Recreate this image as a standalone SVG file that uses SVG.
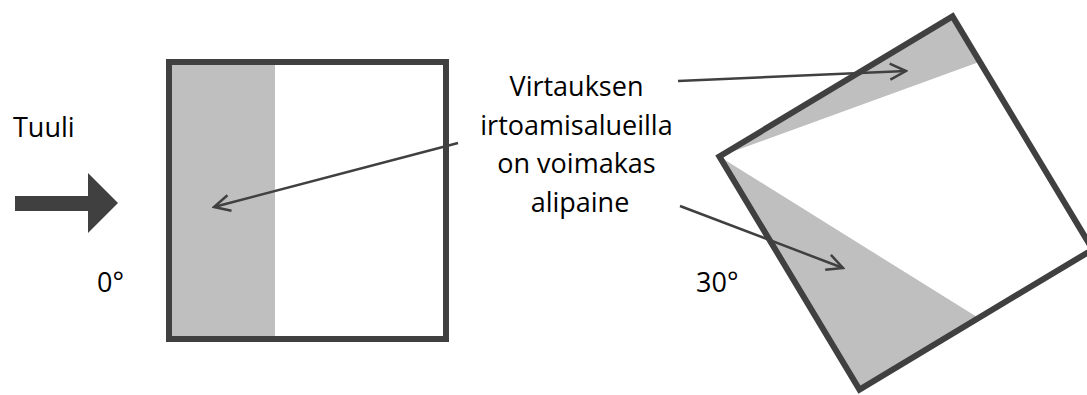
<svg xmlns="http://www.w3.org/2000/svg" width="1087" height="395" viewBox="0 0 1087 395">
<style>
.t{font-family:"Open Sans","Liberation Sans",sans-serif;font-size:27px;fill:#000}
.sq{fill:none;stroke:#404040;stroke-width:6}
.sh{fill:#bfbfbf}
.c{fill:none;stroke:#404040;stroke-width:2.5;marker-end:url(#ah)}
</style>
<defs>
<marker id="ah" viewBox="0 0 20 20" markerWidth="20" markerHeight="20" refX="18" refY="10" orient="auto" markerUnits="userSpaceOnUse">
<path d="M2,2 L18,10 L2,18" fill="none" stroke="#404040" stroke-width="2.5"/>
</marker>
</defs>
<rect width="1087" height="395" fill="#fff"/>
<g id="wind">
<polygon points="15,196 88,196 88,173 118,203 88,233 88,211 15,211" fill="#404040"/>
<text class="t" x="13" y="137" font-size="26">Tuuli</text>
</g>
<g id="square0">
<rect x="169" y="62" width="277" height="277" fill="#fff"/>
<rect class="sh" x="169" y="62" width="106" height="277"/>
<rect class="sq" x="169" y="62" width="277" height="277"/>
<text class="t" x="97" y="292">0°</text>
</g>
<g id="square30">
<g transform="translate(906,203) rotate(-31)">
<rect x="-136" y="-136" width="272" height="272" fill="#fff"/>
<polygon class="sh" points="-136,-136 136,-136 136,-83"/>
<polygon class="sh" points="-136,-136 -136,136 3,136"/>
<rect class="sq" x="-136" y="-136" width="272" height="272"/>
</g>
<text class="t" x="696" y="292">30°</text>
</g>
<g id="label">
<text class="t" text-anchor="middle">
<tspan x="580" y="96">Virtauksen</tspan>
<tspan x="580" y="135">irtoamisalueilla</tspan>
<tspan x="580" y="173">on voimakas</tspan>
<tspan x="580" y="212">alipaine</tspan>
</text>
</g>
<g id="connectors">
<line class="c" x1="458" y1="143" x2="214" y2="207"/>
<line class="c" x1="678" y1="81" x2="906" y2="71"/>
<line class="c" x1="680" y1="206" x2="843" y2="268"/>
</g>
</svg>
